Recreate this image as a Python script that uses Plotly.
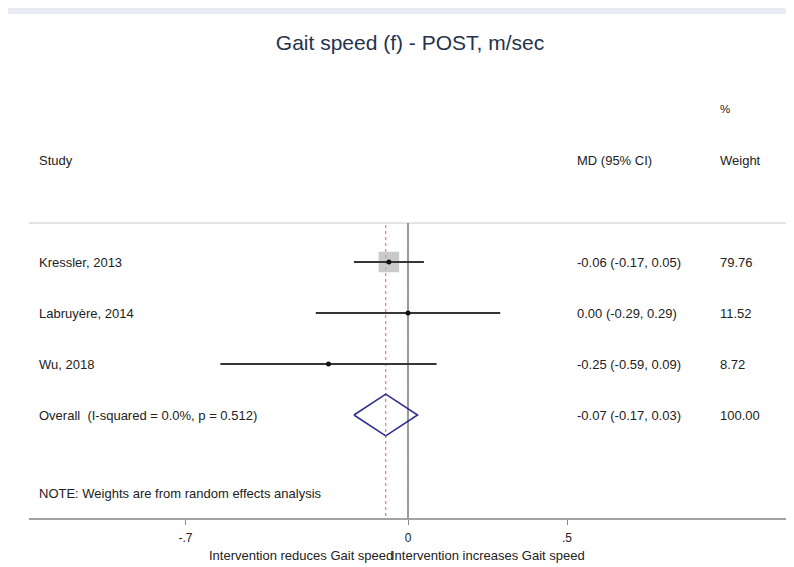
import plotly.graph_objects as go

# ---- data ----
studies = ["Kressler, 2013", "Labruyère, 2014", "Wu, 2018"]
md = [-0.06, 0.00, -0.25]
ci_lo = [-0.17, -0.29, -0.59]
ci_hi = [0.05, 0.29, 0.09]
weights = [79.76, 11.52, 8.72]
overall_label = "Overall  (I-squared = 0.0%, p = 0.512)"
overall_md = -0.07
overall_lo = -0.17
overall_hi = 0.03
overall_weight = 100.00
tick_vals = [-0.7, 0, 0.5]
tick_text = ["-.7", "0", ".5"]
title_text = "Gait speed (f) - POST, m/sec"
note_text = "NOTE: Weights are from random effects analysis"
left_label = "Intervention reduces Gait speed"
right_label = "Intervention increases Gait speed"

# ---- layout geometry (page pixels; the figure sits 8px in from the page corner) ----
OFF = 8
W, H = 794, 567
AXIS_L_PAGE, AXIS_Y_PAGE, TOP_PAGE = 29, 518, 14
L = AXIS_L_PAGE - OFF
T = TOP_PAGE - OFF
B = H - (AXIS_Y_PAGE - OFF)
R = 0
PW, PH = W - L - R, H - T - B
X0PX, XSCALE = 408 - OFF, 318.0       # fig px of value 0, px per unit
ROW1PX, ROWSTEP = 262 - OFF, 51.0     # fig px of first row, px per row

xr = [(L - X0PX) / XSCALE, (W - R - X0PX) / XSCALE]
y_bottom = 1 + ((H - B) - ROW1PX) / ROWSTEP
y_top = 1 + (T - ROW1PX) / ROWSTEP


def px_x(page_px):
    return (page_px - OFF - L) / PW


def px_y(page_py):
    return ((H - B) - (page_py - OFF)) / PH


def row_y(page_py):
    return 1 + (page_py - OFF - ROW1PX) / ROWSTEP


FONT = "Liberation Sans, Arial, sans-serif"
TXT = "#222222"
FS = 13
rows = list(range(1, len(studies) + 1))
overall_row = len(studies) + 1

fig = go.Figure()

# weight boxes (size proportional to weight)
fig.add_trace(go.Scatter(
    x=md, y=rows, mode="markers",
    marker=dict(symbol="square", color="#b3b3b3",
                size=[20.5 * w / max(weights) for w in weights], line=dict(width=0)),
    hoverinfo="skip", showlegend=False))

# confidence intervals + point estimate
fig.add_trace(go.Scatter(
    x=md, y=rows, mode="markers",
    marker=dict(symbol="circle", color="#111111", size=5),
    error_x=dict(type="data", symmetric=False,
                 array=[h - m for h, m in zip(ci_hi, md)],
                 arrayminus=[m - l for m, l in zip(md, ci_lo)],
                 color="#363636", thickness=2, width=0),
    hoverinfo="skip", showlegend=False))

# overall diamond
dh = 0.41
fig.add_trace(go.Scatter(
    x=[overall_lo, overall_md, overall_hi, overall_md, overall_lo],
    y=[overall_row, overall_row - dh, overall_row, overall_row + dh, overall_row],
    mode="lines", line=dict(color="#2f318f", width=1.6),
    hoverinfo="skip", showlegend=False))

shapes = [
    # white panel
    dict(type="rect", xref="paper", yref="paper", x0=px_x(8), x1=1.05,
         y0=px_y(H + 20), y1=px_y(14), fillcolor="white", line=dict(width=0), layer="below"),
    # header separator
    dict(type="line", xref="paper", yref="y", x0=0, x1=1, y0=row_y(223), y1=row_y(223),
         line=dict(color="#e3e3e3", width=2), layer="below"),
    # null line
    dict(type="line", xref="x", yref="y", x0=0, x1=0, y0=row_y(223), y1=y_bottom,
         line=dict(color="#9a9a9a", width=2), layer="below"),
    # overall effect dashed line
    dict(type="line", xref="x", yref="y", x0=overall_md, x1=overall_md, y0=row_y(225), y1=y_bottom,
         line=dict(color="#ee5566", width=1, dash="3px,3px"), layer="below"),
]

ann = []


def add_text(text, px, ry, size=FS, anchor="left", color=TXT, yref="y"):
    ann.append(dict(text=text, xref="paper", yref=yref, x=px_x(px), y=ry,
                    xanchor=anchor, yanchor="middle", showarrow=False,
                    font=dict(family=FONT, size=size, color=color)))


# headers
add_text("%", 718, row_y(109), size=11.5)
add_text("Study", 37, row_y(160))
add_text("MD (95% CI)", 575, row_y(160))
add_text("Weight", 718, row_y(160))

for r, s, m, lo, hi, w in zip(rows, studies, md, ci_lo, ci_hi, weights):
    add_text(s, 37, r)
    add_text(f"{m:.2f} ({lo:.2f}, {hi:.2f})", 575, r)
    add_text(f"{w:.2f}", 718, r)

add_text(overall_label, 37, overall_row)
add_text(f"{overall_md:.2f} ({overall_lo:.2f}, {overall_hi:.2f})", 575, overall_row)
add_text(f"{overall_weight:.2f}", 718, overall_row)
add_text(note_text, 37, row_y(493))

# bottom direction labels
add_text(left_label, 301, px_y(555), anchor="center", yref="paper")
add_text(right_label, 488, px_y(555), anchor="center", yref="paper")

fig.update_layout(
    width=W, height=H,
    margin=dict(l=L, r=R, t=T, b=B, pad=0),
    paper_bgcolor="#e8ebf1", plot_bgcolor="white",
    title=dict(text=title_text, x=(410 - OFF) / W, xanchor="center", y=1 - (43 - OFF) / H,
               yanchor="middle", font=dict(family=FONT, size=21, color="#26334d")),
    xaxis=dict(range=xr, showgrid=False, zeroline=False, showline=True,
               linecolor="#a3a3a3", linewidth=2, ticks="outside", ticklen=5,
               tickcolor="#8a8a8a", tickwidth=1,
               tickvals=tick_vals, ticktext=tick_text, ticklabelstandoff=3,
               tickfont=dict(family=FONT, size=12, color=TXT), fixedrange=True),
    yaxis=dict(range=[y_bottom, y_top], visible=False, fixedrange=True),
    shapes=shapes, annotations=ann, showlegend=False,
)

fig.write_html("out.html")
